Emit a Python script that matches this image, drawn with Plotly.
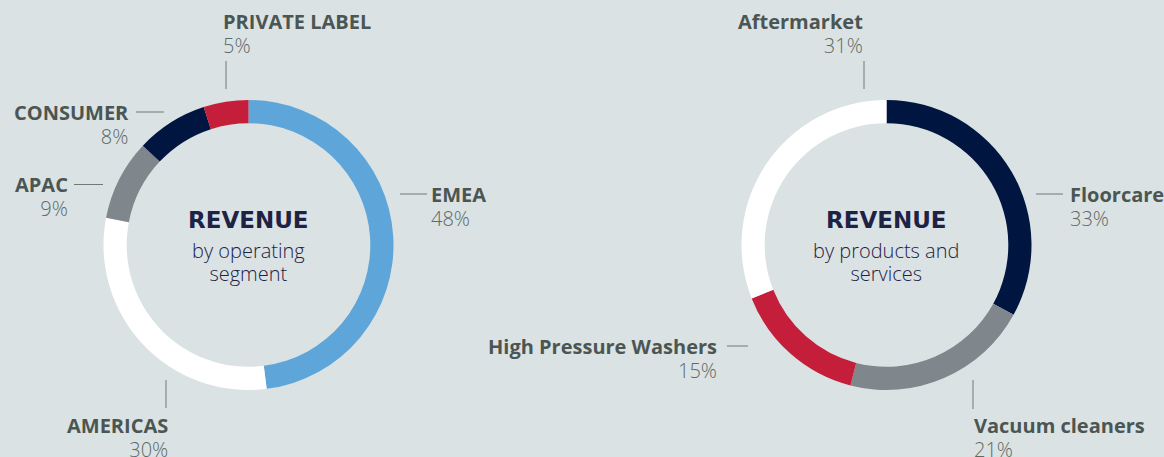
import plotly.graph_objects as go

W, H = 1164, 457

# Data
seg_labels = ["EMEA", "AMERICAS", "APAC", "CONSUMER", "PRIVATE LABEL"]
seg_values = [48, 30, 9, 8, 5]
seg_colors = ["#5ea5da", "#ffffff", "#7f878c", "#001641", "#c41e3a"]

prod_labels = ["Floorcare", "Vacuum cleaners", "High Pressure Washers", "Aftermarket"]
prod_values = [33, 21, 15, 31]
prod_colors = ["#001641", "#7f878c", "#c41e3a", "#ffffff"]

BG = "#dae2e4"
LABEL_C = "#4b5652"
PCT_C = "#5f6a66"
LINE_C = "#6f7a76"
CENTER_C = "#1e2244"
FONT = "Open Sans"


def px(x):
    return x / W


def py(y):
    return 1 - y / H


def donut_domain(cx, cy, r):
    return dict(x=[px(cx - r), px(cx + r)], y=[py(cy + r), py(cy - r)])


fig = go.Figure()
fig.add_trace(go.Pie(
    labels=seg_labels, values=seg_values, sort=False, direction="clockwise",
    rotation=0, hole=0.84, textinfo="none", hoverinfo="label+percent",
    marker=dict(colors=seg_colors, line=dict(width=0)),
    domain=donut_domain(248.5, 245, 145), showlegend=False,
))
fig.add_trace(go.Pie(
    labels=prod_labels, values=prod_values, sort=False, direction="clockwise",
    rotation=0, hole=0.84, textinfo="none", hoverinfo="label+percent",
    marker=dict(colors=prod_colors, line=dict(width=0)),
    domain=donut_domain(886.5, 245, 145), showlegend=False,
))

annotations = []
shapes = []


def label(name, pct, x, y_name, anchor):
    # two lines (bold name + light percentage) in one text block, 24px apart
    text = ("<span style='font-size:20px;font-weight:700'>%s</span><br>"
            "<span style='font-size:20px;font-weight:300;color:%s'>%d%%</span>"
            % (name, PCT_C, pct))
    annotations.append(dict(
        x=px(x), y=py(y_name + 12), xref="paper", yref="paper", text=text,
        showarrow=False, xanchor=anchor, yanchor="middle", align=anchor, borderpad=0,
        font=dict(family=FONT, size=24 / 1.3, color=LABEL_C)))


def line(x0, y0, x1, y1):
    shapes.append(dict(type="line", xref="paper", yref="paper",
                       x0=px(x0), y0=py(y0), x1=px(x1), y1=py(y1),
                       line=dict(color=LINE_C, width=1)))


# Left donut labels
label(seg_labels[4], seg_values[4], 222, 22, "left")
line(226, 61, 226, 89)
label(seg_labels[3], seg_values[3], 130, 112, "right")
line(136, 112, 164, 112)
label(seg_labels[2], seg_values[2], 69, 184.5, "right")
line(74, 184.5, 103, 184.5)
label(seg_labels[1], seg_values[1], 169, 425.5, "right")
line(166, 380, 166, 408)
label(seg_labels[0], seg_values[0], 430, 194, "left")
line(400, 194, 427, 194)

# Right donut labels
label(prod_labels[3], prod_values[3], 864, 22, "right")
line(864, 61, 864, 89)
label(prod_labels[0], prod_values[0], 1069, 194, "left")
line(1036, 194, 1063, 194)
label(prod_labels[2], prod_values[2], 718, 346, "right")
line(727, 346, 748, 346)
label(prod_labels[1], prod_values[1], 973, 425.5, "left")
line(973, 380, 973, 409)


def center(cx, sub_lines):
    annotations.append(dict(
        x=px(cx), y=py(219.5), xref="paper", yref="paper", text="<b>REVENUE</b>",
        showarrow=False, xanchor="center", yanchor="middle", borderpad=0,
        font=dict(family="DejaVu Sans", size=23, color=CENTER_C)))
    text = "<br>".join(
        "<span style='font-size:20px;font-weight:300'>%s</span>" % t for t in sub_lines)
    annotations.append(dict(
        x=px(cx), y=py(261.5), xref="paper", yref="paper", text=text,
        showarrow=False, xanchor="center", yanchor="middle", align="center", borderpad=0,
        font=dict(family=FONT, size=23 / 1.3, color=CENTER_C)))


center(248, ["by operating", "segment"])
center(886, ["by products and", "services"])

fig.update_layout(
    width=W, height=H, margin=dict(l=0, r=0, t=0, b=0),
    paper_bgcolor=BG, plot_bgcolor=BG,
    annotations=annotations, shapes=shapes,
)

fig.write_html("out.html")
